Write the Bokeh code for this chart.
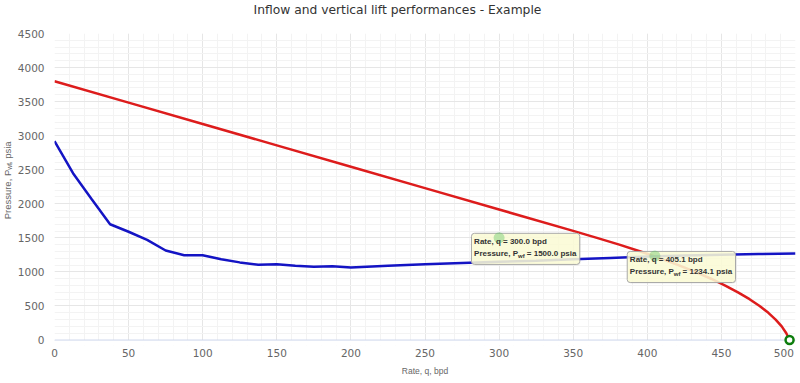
import math
from bokeh.plotting import figure
from bokeh.layouts import row, column
from bokeh.models import Range1d, SingleIntervalTicker, Label, BoxAnnotation, Span
from bokeh.embed import file_html
from bokeh.resources import INLINE

TITLE = "Inflow and vertical lift performances - Example"
X_LABEL = "Rate, q, bpd"
Y_LABEL_PARTS = ["Pressure, P", "wf", ", psia"]

# IPR curve (red)
IPR_Q = [0, 50, 100, 150, 200, 250, 300, 350, 366, 381.1, 395.4, 408.6, 421.0, 432.4,
         443.0, 452.6, 461.2, 469.0, 475.8, 481.7, 486.6, 490.7, 493.8, 496.0]
IPR_P = [3800, 3486, 3172, 2858, 2544, 2230, 1916, 1602, 1500, 1400, 1300, 1200, 1100, 1000,
         900, 800, 700, 600, 500, 400, 300, 200, 100, 0]

# VLP curve (blue)
VLP_Q = [0, 12.5, 25, 37.5, 50, 62.5, 75, 87.5, 100, 112.5, 125, 137.5, 150, 162.5, 175,
         187.5, 200, 225, 250, 275, 300, 325, 350, 375, 400, 425, 450, 475, 500]
VLP_P = [2920, 2450, 2070, 1700, 1590, 1470, 1315, 1245, 1245, 1185, 1140, 1105, 1112, 1090, 1075,
         1085, 1065, 1090, 1112, 1130, 1148, 1165, 1185, 1205, 1225, 1240, 1252, 1262, 1270]

# hovered points with tooltips
TIP_Q = [300.0, 405.1]
TIP_P = [1500.0, 1234.1]

X_MIN, X_MAX, X_STEP = 0, 500, 50
Y_MIN, Y_MAX, Y_STEP = 0, 4500, 500
Y_PAD = 80  # room below zero so the end marker is not cut

TICK_FONT = "DejaVu Sans"
TXT_FONT = "Liberation Sans"
W = 800
TITLE_H = 20
LABEL_W = 14
H = 383 - TITLE_H


def strip(width, height):
    f = figure(width=width, height=height, output_backend="svg", toolbar_location=None,
               x_range=Range1d(0, width), y_range=Range1d(0, height),
               x_axis_type=None, y_axis_type=None, title=None,
               min_border_left=0, min_border_right=0, min_border_top=0, min_border_bottom=0)
    f.outline_line_color = None
    f.xgrid.visible = False
    f.ygrid.visible = False
    f.background_fill_color = "white"
    f.border_fill_color = "white"
    return f


# ---------------- title strip ----------------
tf = strip(W, TITLE_H)
tf.add_layout(Label(x=253, y=TITLE_H - 9.5, text=TITLE, text_align="left",
                    text_baseline="middle", text_font=TICK_FONT, text_font_size="12.3px",
                    text_color="#333333"))

# ---------------- main chart ----------------
p = figure(width=W - LABEL_W, height=H, output_backend="svg", toolbar_location=None,
           title=None, x_range=Range1d(X_MIN, X_MAX), y_range=Range1d(Y_MIN - Y_PAD, Y_MAX),
           min_border_left=53 - LABEL_W, min_border_right=5, min_border_top=33 - TITLE_H,
           min_border_bottom=38)
p.outline_line_color = None
p.background_fill_color = "white"
p.border_fill_color = "white"

p.xaxis.ticker = SingleIntervalTicker(interval=X_STEP, num_minor_ticks=5)
p.yaxis.ticker = SingleIntervalTicker(interval=Y_STEP, num_minor_ticks=5)
p.xgrid.ticker = p.xaxis.ticker
p.ygrid.ticker = p.yaxis.ticker

for g in (p.xgrid, p.ygrid):
    g.grid_line_color = "#e6e6e6"
    g.grid_line_width = 1
    g.minor_grid_line_color = "#f3f3f3"
    g.minor_grid_line_width = 1

for ax in (p.xaxis, p.yaxis):
    ax.major_tick_line_color = None
    ax.minor_tick_line_color = None
    ax.major_tick_out = 0
    ax.major_tick_in = 0
    ax.minor_tick_out = 0
    ax.minor_tick_in = 0
    ax.major_label_text_font = TICK_FONT
    ax.major_label_text_font_size = "10.5px"
    ax.major_label_text_color = "#666666"
    ax.axis_line_color = None

p.xaxis.major_label_standoff = 1
# last label justified into the chart like the original
p.xaxis.major_label_overrides = {X_MAX: str(X_MAX) + "\u2007"}
p.xaxis.axis_label = X_LABEL
p.xaxis.axis_label_text_font = TXT_FONT
p.xaxis.axis_label_text_font_size = "8.5px"
p.xaxis.axis_label_text_font_style = "normal"
p.xaxis.axis_label_text_color = "#666666"
p.xaxis.axis_label_standoff = 4

p.yaxis.major_label_standoff = 10

# blank strip below zero, then the x axis line at zero
p.add_layout(BoxAnnotation(top=Y_MIN, fill_color="white", fill_alpha=1.0, line_color=None,
                           level="underlay"))
p.add_layout(Span(location=Y_MIN, dimension="width", line_color="#ccd6eb", line_width=1,
                  level="underlay"))

# curves
p.line(IPR_Q, IPR_P, line_color="#dd1c1c", line_width=2.5)
p.line(VLP_Q, VLP_P, line_color="#1414c4", line_width=2.5)

# tooltip boxes
for q, pr in zip(TIP_Q, TIP_P):
    p.add_layout(Label(x=q, y=pr, text=" ", text_font_size="1px", text_align="center",
                       text_baseline="middle", x_offset=27.5, y_offset=-12,
                       padding=(54, 15), background_fill_color="#707070",
                       background_fill_alpha=0.12, border_line_color=None, border_radius=4))
    p.add_layout(Label(x=q, y=pr, text=" ", text_font_size="1px", text_align="center",
                       text_baseline="middle", x_offset=26.5, y_offset=-11,
                       padding=(54, 15), background_fill_color="#fdfdd6",
                       background_fill_alpha=0.86, border_line_color="#a8a8a8",
                       border_line_width=1, border_radius=3))

# hover halos
p.scatter(TIP_Q, TIP_P, size=11, fill_color="#5cc45c", fill_alpha=0.4, line_color=None,
          level="overlay")

# tooltip texts
tfs = "8px"
tw1 = 44.0
tw2 = 6.5
for q, pr in zip(TIP_Q, TIP_P):
    p.add_layout(Label(x=q, y=pr, text=f"Rate, q = {q:.1f} bpd", text_align="left",
                       text_baseline="middle", x_offset=-25, y_offset=-4,
                       text_font=TXT_FONT, text_font_size=tfs, text_font_style="bold",
                       text_color="#333333", level="overlay"))
    p.add_layout(Label(x=q, y=pr, text="Pressure, P", text_align="right",
                       text_baseline="middle", x_offset=-25 + tw1, y_offset=-16,
                       text_font=TXT_FONT, text_font_size=tfs, text_font_style="bold",
                       text_color="#333333", level="overlay"))
    p.add_layout(Label(x=q, y=pr, text="wf", text_align="left",
                       text_baseline="middle", x_offset=-25 + tw1, y_offset=-18.5,
                       text_font=TXT_FONT, text_font_size="6px", text_font_style="bold",
                       text_color="#333333", level="overlay"))
    p.add_layout(Label(x=q, y=pr, text=f"\u00a0= {pr:.1f} psia", text_align="left",
                       text_baseline="middle", x_offset=-25 + tw1 + tw2, y_offset=-16,
                       text_font=TXT_FONT, text_font_size=tfs, text_font_style="bold",
                       text_color="#333333", level="overlay"))

# end-of-curve marker (AOF point)
p.scatter([IPR_Q[-1]], [IPR_P[-1]], size=8, fill_color="white", line_color="#0d7d0d",
          line_width=2.5, level="overlay")

# ---------------- y-axis title strip ----------------
yl = strip(LABEL_W, H)
lx = 6.5
sub_y = H - (178.5 - TITLE_H)   # where the subscript starts
w2 = 6.5
yl.add_layout(Label(x=lx, y=sub_y, text=Y_LABEL_PARTS[0], angle=math.pi / 2,
                    text_align="right", text_baseline="middle",
                    text_font=TXT_FONT, text_font_size="9.5px", text_color="#666666"))
yl.add_layout(Label(x=lx + 2.3, y=sub_y, text=Y_LABEL_PARTS[1], angle=math.pi / 2,
                    text_align="left", text_baseline="middle",
                    text_font=TXT_FONT, text_font_size="6.5px", text_color="#666666"))
yl.add_layout(Label(x=lx, y=sub_y + w2, text=Y_LABEL_PARTS[2], angle=math.pi / 2,
                    text_align="left", text_baseline="middle",
                    text_font=TXT_FONT, text_font_size="9.5px", text_color="#666666"))

layout = column(tf, row(yl, p, spacing=0), spacing=0)
open("out.html", "w").write(file_html(layout, INLINE))
